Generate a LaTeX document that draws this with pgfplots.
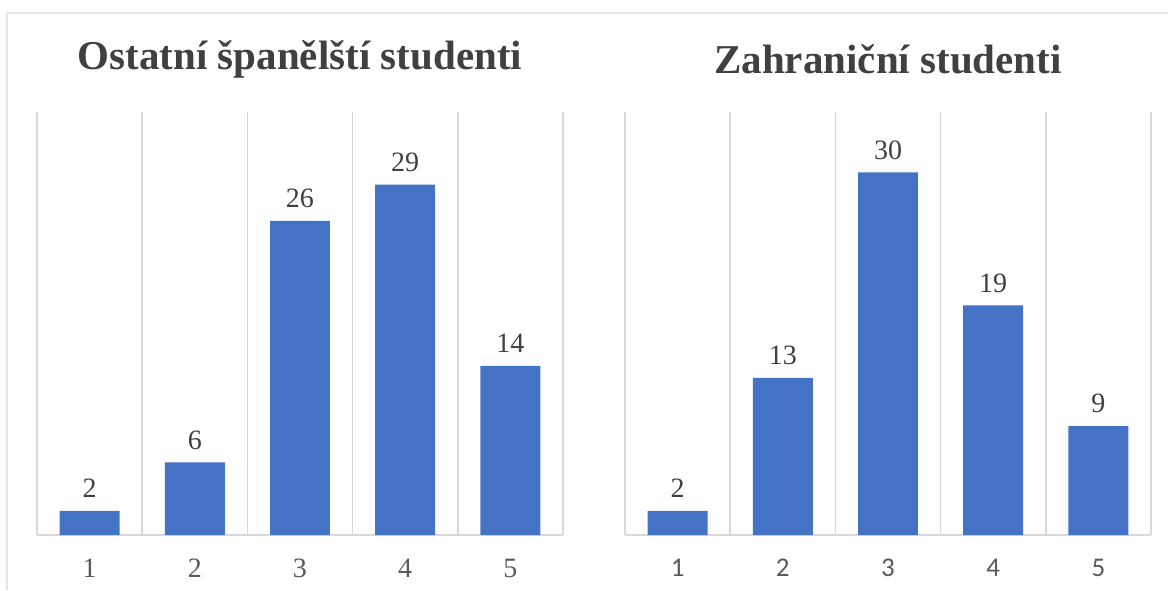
\documentclass[border=0pt]{standalone}
\usepackage{fontspec}
\setmainfont{Liberation Serif}
\newfontfamily\carlito{Carlito}
\usepackage{pgfplots}
\pgfplotsset{compat=1.18}
\definecolor{barblue}{HTML}{4472C4}
\definecolor{gridgray}{HTML}{D9D9D9}
\definecolor{txt}{HTML}{404040}
\definecolor{ticktxt}{HTML}{595959}
\definecolor{framegray}{HTML}{E6E6E6}
\pgfplotsset{
  panel/.style={
    anchor=south west,
    scale only axis,
    width=263pt, height=211.5pt,
    xmin=0.5, xmax=5.5, ymin=0, ymax=35,
    enlargelimits=false,
    axis x line*=bottom,
    axis y line=none,
    ytick=\empty,
    xtick={1,2,3,4,5},
    minor xtick={0.5,1.5,2.5,3.5,4.5,5.5},
    xminorgrids=true,
    minor grid style={color=gridgray, line width=0.75pt},
    axis line style={color=gridgray, line width=0.75pt},
    major tick length=0pt, minor tick length=0pt,
    /pgf/number format/assume math mode=true,
    title style={at={(0.5,1.097)}, anchor=center, font=\fontsize{20.5}{24}\selectfont\bfseries, text=txt},
    nodes near coords,
    every node near coord/.append style={font=\fontsize{14}{16}\selectfont, text=txt, yshift=3pt},
    xticklabel style={text=ticktxt, yshift=-8.5pt},
  }
}
\begin{document}
\begin{tikzpicture}
\path[use as bounding box] (0,0) rectangle (584pt,295pt);
\draw[framegray, line width=0.75pt] (3.5pt,0) -- (3.5pt,288.5pt) -- (584pt,288.5pt);
\begin{axis}[panel, at={(18.5pt,27.5pt)},
  title={Ostatní španělští studenti},
  xticklabel style={font=\fontsize{14}{16}\selectfont}]
\addplot[ybar, bar width=0.57, fill=barblue, draw=none] coordinates {(1,2) (2,6) (3,26) (4,29) (5,14)};
\end{axis}
\begin{axis}[panel, at={(312.5pt,27.5pt)}, width=263pt,
  title={Zahraniční studenti},
  xticklabel style={font=\carlito\fontsize{13.5}{15}\selectfont}]
\addplot[ybar, bar width=0.57, fill=barblue, draw=none] coordinates {(1,2) (2,13) (3,30) (4,19) (5,9)};
\end{axis}
\end{tikzpicture}
\end{document}
